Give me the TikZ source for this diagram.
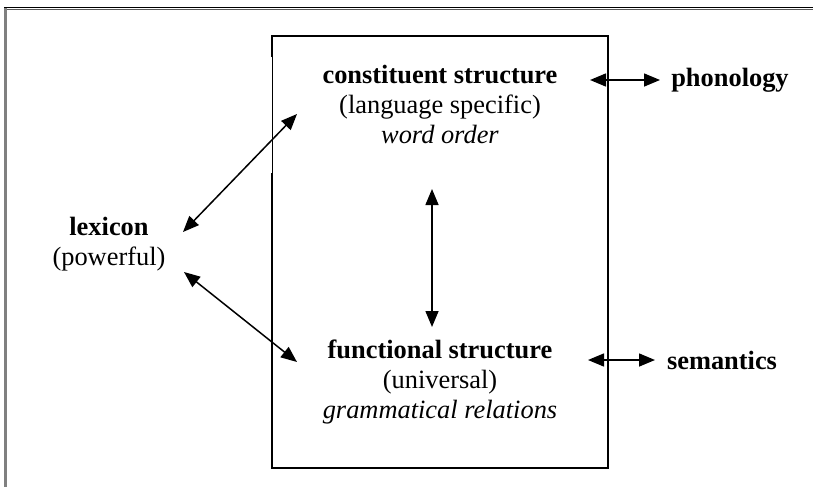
\documentclass[tikz,border=0pt]{standalone}
\usepackage{fontspec}
\setmainfont{Liberation Serif}
\usetikzlibrary{arrows.meta}

\tikzset{
	txt/.style={inner sep=0pt, align=center, font=\fontsize{13.2}{15}\selectfont},
	twoway/.style={{Triangle[length=8pt,width=6.5pt]}-{Triangle[length=8pt,width=6.5pt]}, line width=0.75pt},
	boxline/.style={line width=1pt}
}

\begin{document}
\begin{tikzpicture}[x=0.5pt,y=-0.5pt]
	\useasboundingbox (0,0) rectangle (813,487);
	\draw[line width=0.6pt] (4,7.5) -- (813,7.5);% top edge of the frame
	\draw[gray!70!black, line width=0.5pt] (7,9.5) -- (813,9.5);
	\draw[gray, line width=1.2pt] (5.5,8) -- (5.5,487);% left edge of the frame
	\draw[boxline] (272,57) -- (272,36) -- (608,36) -- (608,468) -- (272,468) -- (272,173);% the big box
	\draw[line width=0.4pt] (272,57) -- (272,173);% thin piece of its left side
	\node[txt] (con) at (440,104) {\textbf{constituent structure}\\(language specific)\\\textit{word order}};
	\node[txt] (fun) at (440,382) {\textbf{functional structure}\\(universal)\\\textit{grammatical relations}};
	\node[txt] (lex) at (109,244) {\textbf{lexicon}\\(powerful)};
	\node[txt] (pho) at (730,80) {\textbf{phonology}};
	\node[txt] (sem) at (722,360) {\textbf{semantics}};
	\draw[twoway] ([shift={(74,-12)}]lex.center) -- ([shift={(-143,10)}]con.center);
	\draw[twoway] ([shift={(75,28)}]lex.center) -- ([shift={(-143,-20)}]fun.center);
	\draw[twoway] ([shift={(-8,85)}]con.center) -- ([shift={(-8,-55)}]fun.center);
	\draw[twoway] ([shift={(-140,0)}]pho.center) -- ([shift={(-70,0)}]pho.center);
	\draw[twoway] ([shift={(-134,0)}]sem.center) -- ([shift={(-67,0)}]sem.center);
\end{tikzpicture}
\end{document}
